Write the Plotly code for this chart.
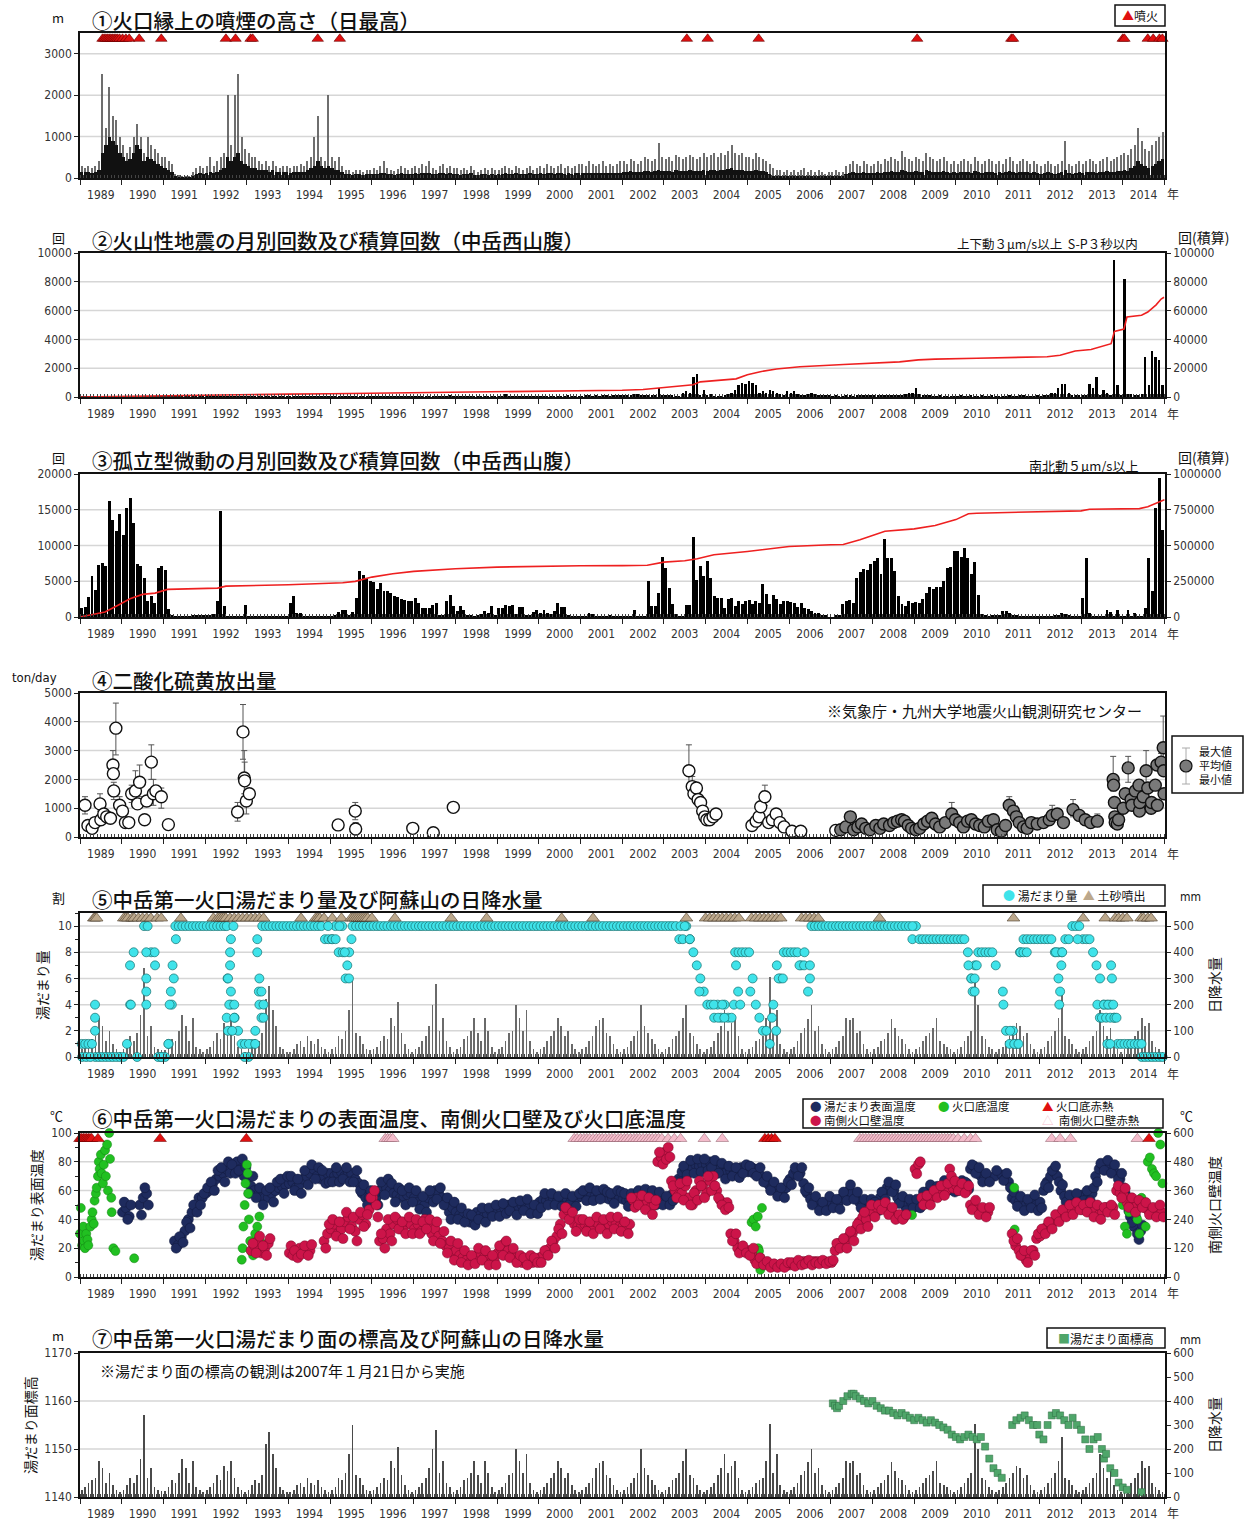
import numpy as np
import pandas as pd
import plotly.graph_objects as go

# ---------------- DATA ----------------
YEAR_START = "1989-01-01"
N_MONTHS = 312

# (1) plume height (m): monthly peak of daily max / typical daily level
PLUME_PEAK = [
 300,250,300,250,300,400,2500,1200,2200,1500,1400,1000,
 800,600,750,1000,1300,1000,600,1000,800,700,600,500,
 500,400,350,100,80,60,50,60,150,250,300,250,
 300,500,300,400,500,600,2000,800,2000,2500,1000,700,
 600,500,500,400,350,400,300,400,300,250,300,300,
 250,300,300,350,300,400,500,1000,1500,500,400,2000,
 500,400,500,300,200,200,150,200,200,150,200,200,
 250,200,300,400,250,200,180,220,300,250,200,250,
 300,250,350,300,400,250,200,300,350,250,300,250,
 250,200,250,200,300,200,150,200,250,200,250,200,
 200,250,300,250,200,300,250,200,250,300,200,250,
 300,250,350,300,250,300,350,250,300,250,300,350,
 350,300,400,350,300,350,400,300,350,300,350,400,
 400,350,450,400,350,400,500,450,400,450,850,500,
 450,500,400,550,500,450,500,550,500,450,500,600,
 500,550,600,500,600,550,650,800,600,550,600,500,
 500,450,600,500,450,400,350,250,200,200,150,200,
 150,200,150,200,250,150,200,150,200,150,100,150,
 150,200,150,150,300,350,400,350,300,400,350,300,
 350,400,350,450,400,500,450,400,640,500,450,400,
 500,450,400,600,500,450,400,450,500,400,350,400,
 350,400,450,400,350,500,400,350,400,450,400,350,
 400,350,450,500,400,350,400,450,400,350,400,350,
 300,350,400,350,300,350,400,900,350,300,350,400,
 350,400,450,400,350,400,450,500,400,450,500,550,
 600,550,700,800,1200,900,700,650,800,900,1000,1100,
]
PLUME_TYP = [
 150,150,150,120,150,200,600,800,1000,900,800,600,
 500,400,450,600,800,700,400,500,450,400,350,300,
 250,200,150,30,20,20,20,20,50,100,120,100,
 120,150,120,150,200,250,500,400,500,600,400,350,
 300,250,250,200,200,200,150,200,150,150,150,150,
 120,150,150,150,150,200,250,300,400,300,250,300,
 250,200,200,150,100,100,80,100,100,80,100,100,
 100,90,110,120,100,90,80,100,110,100,90,100,
 110,100,120,110,130,100,90,110,120,100,110,100,
 90,80,100,90,110,80,70,90,100,80,90,80,
 90,100,110,100,90,110,100,90,100,110,90,100,
 110,100,120,110,100,110,120,100,110,100,110,120,
 120,110,130,120,110,120,130,110,120,110,120,130,
 150,140,160,150,140,150,170,160,150,160,200,170,
 160,180,150,190,180,160,180,190,180,160,180,200,
 180,190,200,180,200,190,210,250,200,190,200,180,
 180,160,200,180,160,140,100,60,50,50,40,50,
 40,50,40,50,60,40,50,40,50,40,30,40,
 40,50,40,40,100,120,140,120,110,140,120,110,
 120,140,120,150,140,160,150,140,200,160,150,140,
 160,150,140,200,160,150,140,150,160,140,120,140,
 120,140,150,140,120,160,140,120,140,150,140,120,
 140,120,150,160,140,120,140,150,140,120,140,120,
 100,120,140,120,100,120,140,200,120,100,120,140,
 120,140,150,140,120,140,150,160,140,150,160,180,
 200,180,250,300,400,350,300,250,300,350,400,450,
]
ERUPTION_T = [1989.54,1989.58,1989.62,1989.66,1989.70,1989.74,1989.78,1989.82,1989.86,
              1989.90,1989.95,1990.02,1990.10,1990.18,1990.42,1990.95,1992.50,1992.73,
              1993.09,1993.14,1994.70,1995.23,2003.55,2004.05,2005.27,2009.07,2011.33,
              2011.37,2014.00,2014.04,2014.60,2014.73,2014.88,2014.95]

# (2) volcanic earthquakes per month / cumulative
EQ_MONTHLY = [
 30,40,30,50,40,30,40,50,40,30,40,30,
 40,30,40,50,60,50,40,30,40,50,40,30,
 30,40,30,40,50,40,30,40,30,40,30,40,
 40,30,40,50,40,30,40,50,40,30,40,30,
 30,40,30,40,30,40,50,40,30,40,30,40,
 40,30,40,30,40,30,40,30,40,30,40,30,
 30,40,30,40,30,40,30,40,30,40,30,40,
 30,30,40,30,40,30,40,30,40,30,40,30,
 40,30,40,30,40,30,40,30,40,50,150,40,
 40,50,40,30,40,50,40,50,60,50,40,50,
 50,50,200,50,40,50,40,50,40,50,40,50,
 50,60,50,60,50,60,50,60,120,60,50,60,
 60,70,150,60,70,60,70,80,60,70,80,70,
 100,150,150,200,200,150,100,100,150,150,600,100,
 100,100,100,50,50,300,450,300,1400,1600,100,500,
 100,200,50,50,50,100,200,300,500,800,1000,900,
 1100,1000,800,300,400,300,500,450,300,200,100,400,
 300,400,200,150,100,200,250,200,150,100,100,80,
 60,80,50,60,80,100,60,80,100,80,100,80,
 100,80,100,120,100,150,120,100,150,200,250,300,
 600,200,150,100,80,50,50,80,60,50,50,60,
 60,80,50,60,80,50,60,80,50,60,80,50,
 60,50,60,80,50,60,80,100,60,50,60,80,
 50,80,100,300,300,600,900,900,300,100,100,100,
 100,100,900,600,1400,100,500,300,100,9500,800,100,
 8200,200,200,100,100,200,2800,800,3200,2800,2600,800,
]
EQ_CUM_T = [1989.0,1990.0,1991.0,1992.0,1993.0,1994.0,1995.0,1996.0,1997.0,1998.0,1999.0,
            2000.0,2001.0,2002.0,2002.5,2003.0,2003.4,2003.7,2003.87,2004.5,2004.73,2005.0,
            2005.31,2005.7,2006.26,2007.31,2008.0,2008.65,2009.1,2009.5,2010.5,2011.5,2012.19,
            2012.5,2012.67,2012.86,2013.24,2013.5,2013.72,2013.8,2014.03,2014.1,2014.45,2014.6,
            2014.7,2014.8,2014.92,2014.99]
EQ_CUM_V = [0,500,900,1300,1700,2000,2300,2600,2900,3300,3700,4000,4300,4700,5200,6500,7400,
            8500,10500,12100,12600,15500,17600,19500,21000,22600,23400,24400,25800,26300,26900,
            27400,28000,29000,30500,32000,33000,35000,37000,45500,47200,55500,56800,59000,61500,
            64000,68000,69300]

# (3) isolated tremors per month / cumulative
TREMOR_MONTHLY = [
 1300,1400,2800,5700,3800,7300,7600,7100,16200,13600,12000,14400,
 11400,15200,16700,13200,7400,7200,5400,2200,2900,2000,6900,7200,
 6600,1100,200,100,100,100,100,100,200,300,200,200,
 200,300,400,2300,14800,1500,100,50,50,50,50,1700,
 50,50,50,50,50,50,50,50,50,50,50,50,
 2000,3000,500,500,50,50,50,50,50,100,100,100,
 100,200,700,1000,1000,300,700,2600,6400,5900,5400,5000,
 4900,3900,4700,3700,3600,3300,2900,2800,2500,2400,2300,2300,
 2600,2000,1300,1300,1200,1700,2000,300,300,2200,3100,1600,
 900,1500,1000,300,200,100,200,400,900,500,1500,300,
 1300,1200,1700,1600,1700,400,1400,1400,300,300,700,1000,
 600,1000,500,400,900,1900,1400,1400,200,100,100,100,
 100,100,600,400,100,50,50,100,300,100,50,50,
 50,50,50,1000,50,50,50,5000,1500,1500,3300,8400,
 6900,4100,1800,400,50,50,1700,1700,11200,5200,7200,5800,
 7800,5400,2900,2700,2700,1200,2500,2600,1600,2200,1800,2200,
 2400,1800,2200,2000,4600,3200,1800,3100,2500,1800,2200,2200,
 2100,1900,1400,2000,1200,1100,800,500,600,300,300,0,
 0,300,300,1800,2200,2400,2000,5500,6300,6700,6600,7400,
 7800,8200,6000,10900,8300,8300,6400,3000,1800,1600,2300,2000,
 2100,2000,2500,3300,4200,3900,4200,4200,5100,6900,7000,9200,
 9300,8400,9600,8300,6000,7700,3100,400,200,100,300,300,
 200,900,900,500,300,200,100,50,50,50,50,50,
 50,50,50,100,300,300,500,400,200,50,50,50,
 2700,8300,600,50,50,50,50,1000,700,50,1000,100,
 100,1000,100,500,100,100,1200,8200,3700,15300,19500,12100,
]
TREMOR_CUM_T = [1989.0,1989.3,1989.6,1989.9,1990.2,1990.5,1990.8,1991.1,1992.3,1992.5,1994.0,
                1995.3,1995.6,1996.0,1996.5,1997.0,1998.0,1999.0,2000.0,2001.0,2002.0,2002.6,
                2003.0,2003.5,2003.8,2004.2,2005.0,2006.0,2007.0,2007.3,2007.7,2008.0,2008.3,
                2009.0,2009.5,2010.0,2010.3,2010.5,2011.0,2012.5,2013.0,2013.2,2014.4,2014.6,
                2014.8,2014.9,2015.0]
TREMOR_CUM_V = [0,18600,35000,81000,128000,158000,167000,193000,202000,216000,225000,240000,
                249000,279000,302000,319000,337000,349000,356000,358000,359000,362000,384000,
                393000,407000,435000,458000,493000,505000,507000,540000,570000,600000,616000,
                640000,681000,722000,726000,730000,738000,742000,753000,758000,771000,795000,
                812000,820000]

# (4) SO2 flux (ton/day): JMA (open) and JMA/Kyushu Univ. (grey)
SO2_OPEN_T = [1989.12,1989.19,1989.29,1989.36,1989.48,1989.50,1989.57,1989.64,1989.73,1989.79,
              1989.80,1989.81,1989.86,1989.95,1990.02,1990.09,1990.17,1990.24,1990.33,1990.38,
              1990.43,1990.55,1990.60,1990.71,1990.76,1990.82,1990.95,1991.12,1992.78,1992.91,
              1992.94,1992.95,1992.99,1993.06,1995.19,1995.60,1995.61,1996.98,1997.47,1997.95,
              2003.60,2003.68,2003.72,2003.78,2003.82,2003.88,2003.93,2003.98,2004.03,2004.10,
              2004.18,2004.25,2005.11,2005.21,2005.28,2005.32,2005.42,2005.51,2005.60,2005.69,
              2005.78,2005.88,2006.07,2006.28,2007.12]
SO2_OPEN_V = [1100,400,300,500,1150,600,800,700,650,2500,2200,1600,3780,1100,900,500,500,1500,
              1600,1150,1900,600,1250,2600,1500,1600,1400,430,870,3650,2050,1950,1250,1500,420,
              900,280,300,150,1030,2300,1750,1500,1700,1300,1200,900,700,600,600,700,800,400,550,
              700,1050,1400,500,600,800,500,350,200,200,230]
SO2_OPEN_MAX = [1400,500,None,None,1500,None,None,None,None,3000,None,1900,4650,1400,None,None,
                None,1800,2300,None,2500,None,None,3200,2000,None,1700,None,1200,4600,3000,2600,
                1600,None,None,1200,500,None,None,None,3200,2100,None,None,1500,None,None,None,
                None,None,None,None,None,None,None,1200,1800,None,None,None,None,None,None,None,None]
SO2_OPEN_MIN = [800,300,None,None,900,None,None,None,None,2000,None,1300,2850,800,None,None,
                None,1200,1100,None,1400,None,None,2000,1100,None,1000,None,550,2700,1500,1400,
                800,None,None,600,None,None,None,None,1700,1400,None,None,1100,None,None,None,
                None,None,None,None,None,None,None,900,1100,None,None,None,None,None,None,None,None]
SO2_GREY_T = [2007.24,2007.36,2007.47,2007.55,2007.65,2007.74,2007.84,2007.94,2008.08,2008.18,
              2008.27,2008.41,2008.51,2008.60,2008.70,2008.77,2008.86,2008.94,2009.04,2009.13,
              2009.23,2009.32,2009.42,2009.51,2009.61,2009.75,2009.90,2009.99,2010.09,2010.18,
              2010.28,2010.37,2010.47,2010.57,2010.68,2010.78,2010.90,2010.99,2011.09,2011.19,
              2011.28,2011.38,2011.45,2011.52,2011.62,2011.71,2011.81,2011.95,2012.10,2012.24,
              2012.31,2012.43,2012.58,2012.81,2012.96,2013.10,2013.23,2013.39,2013.77,2013.78,
              2013.80,2013.81,2013.82,2013.87,2013.90,2014.01,2014.06,2014.13,2014.20,2014.22,
              2014.30,2014.39,2014.40,2014.41,2014.49,2014.56,2014.60,2014.68,2014.69,2014.78,
              2014.82,2014.83,2014.92,2014.97,2014.98,2014.99]
SO2_GREY_V = [250,350,700,250,350,450,300,250,400,300,450,400,500,550,600,550,400,300,250,300,
              450,550,650,450,350,500,800,600,500,350,550,600,450,400,350,550,600,250,200,400,
              1100,900,700,500,350,300,500,450,500,600,750,800,500,950,750,600,500,550,2000,1800,
              1200,700,500,450,600,1000,1500,2400,1300,1100,1600,1800,900,1200,1400,2300,1700,
              1000,1200,1800,2500,1100,2600,3100,2300,1500]
SO2_GREY_MAX = [None]*26 + [1200] + [None]*13 + [1400] + [None]*9 + [1100, None, None, 1300] + \
               [None]*3 + [800, 2800] + [None]*8 + [2800] + [None]*7 + [3000] + [None]*6 + [2900, 4200, None, None]
SO2_GREY_MIN = [None]*26 + [600] + [None]*13 + [900] + [None]*9 + [600, None, None, 700] + \
               [None]*3 + [400, 1600] + [None]*8 + [1900] + [None]*7 + [1700] + [None]*6 + [2300, 2400, None, None]

# (5) crater lake water amount (tenths) and daily precipitation (mm, monthly max)
POOL_MONTHLY = [
 1,1,1,1,0,0,0,0,0,0,0,0,
 0,1,4,8,0,None,10,10,8,8,0,0,
 0,1,4,10,10,10,10,10,10,10,10,10,
 10,10,10,10,10,10,6,4,3,2,1,1,
 0,1,2,5,10,10,10,10,10,10,10,10,
 10,10,10,10,10,10,10,10,10,10,9,9,
 9,10,8,10,6,8,10,10,10,10,10,10,
 10,10,10,10,10,10,10,10,10,10,10,10,
 10,10,10,10,10,10,10,10,10,10,10,10,
 10,10,10,10,10,10,10,10,10,10,10,10,
 10,10,10,10,10,10,10,10,10,10,10,10,
 10,10,10,10,10,10,10,10,10,10,10,10,
 10,10,10,10,10,10,10,10,10,10,10,10,
 10,10,10,10,10,10,10,10,10,10,10,10,
 10,10,10,10,9,9,10,9,8,7,6,5,
 4,4,3,4,3,4,3,3,8,8,8,8,
 8,6,4,3,2,2,1,4,7,6,8,8,
 8,8,8,7,8,5,10,10,10,10,10,10,
 10,10,10,10,10,10,10,10,10,10,10,10,
 10,10,10,10,10,10,10,10,10,10,10,9,
 10,9,9,9,9,9,9,9,9,9,9,9,
 9,9,9,8,6,7,8,8,8,8,8,7,
 None,5,2,1,2,1,8,9,9,9,9,9,
 9,9,9,9,8,8,8,9,9,10,10,10,
 9,9,9,8,7,6,4,4,4,3,1,1,
 1,1,1,1,1,0,0,0,0,0,0,0,
]
POOL_EXTRA_T = [1989.05,1989.15,1989.25,1989.36,1989.36,1989.36,1990.22,1990.20,1990.59,1990.59,
                1990.59,1990.59,1990.80,1990.95,1991.15,1991.18,1991.22,1991.25,1991.30,1991.12,
                1992.52,1992.52,1992.55,1992.55,1992.58,1992.60,1992.60,1992.62,1992.62,1992.65,
                1992.68,1992.70,1992.70,1992.95,1993.05,1993.25,1993.25,1993.30,1993.30,1993.35,
                1993.35,1993.40,1993.40,1993.20,1994.95,1995.05,1995.13,1995.22,1995.30,1995.41,
                1995.45,1995.51,1995.35,2003.40,2003.50,2003.62,2003.85,2004.20,2004.30,2004.40,
                2004.45,2004.68,2004.73,2004.78,2004.83,2005.07,2005.59,2005.69,2005.75,2005.85,
                2006.25,2006.36,2006.50,2006.50,2008.96,2010.30,2010.37,2010.40,2010.45,2010.45,
                2010.50,2011.14,2011.30,2011.40,2011.50,2011.55,2011.62,2011.70,2012.40,2012.46,
                2012.48,2012.50,2012.53,2012.55,2012.92,2013.39,2013.45,2013.50,2013.55,2013.60,
                2013.65,2013.70,2013.72,2013.74,2013.77,2013.80,2013.85,2013.63,2013.70,2014.45]
POOL_EXTRA_V = [0,0,0,4,3,2,4,7,8,6,5,4,7,0,4,5,7,6,9,1,
                10,3,6,2,4,8,7,9,5,2,10,4,3,0,1,9,8,6,4,3,
                5,4,3,1,10,9,9,10,8,7,6,9,8,10,10,9,5,4,3,4,
                3,4,7,5,4,5,3,2,6,6,7,7,6,7,10,7,6,5,5,6,
                7,4,2,1,1,8,8,8,8,6,4,5,7,8,9,4,3,3,4,3,
                4,3,7,6,4,3,3,1,1,1]
SEDIMENT_T = [1989.33,1989.36,1989.40,1990.05,1990.10,1990.15,1990.25,1990.30,1990.40,1990.50,
              1990.60,1990.70,1990.85,1990.95,1991.42,1992.20,1992.30,1992.35,1992.40,1992.45,
              1992.50,1992.60,1992.70,1992.80,1992.90,1993.00,1993.10,1993.20,1993.30,1993.40,
              1994.30,1994.65,1994.70,1994.75,1994.85,1995.05,1995.27,1995.50,1995.55,1995.60,
              1995.65,1995.70,1995.75,1995.80,1995.85,1995.90,1996.00,1996.55,1997.90,1998.75,
              2000.55,2001.30,2003.54,2004.00,2004.10,2004.20,2004.30,2004.40,2004.50,2004.60,
              2004.70,2004.80,2005.10,2005.20,2005.30,2005.40,2005.50,2005.60,2005.70,2005.80,
              2006.30,2006.40,2006.50,2006.60,2006.70,2008.17,2011.38,2013.05,2013.58,2013.82,
              2013.90,2014.00,2014.10,2014.44,2014.50,2014.60,2014.68]
PRECIP = [
 30,40,60,70,80,150,120,60,100,50,30,20,
 30,50,80,60,90,160,340,80,120,40,30,25,
 25,40,70,60,100,160,120,60,150,40,30,20,
 30,40,60,90,70,130,110,150,80,40,30,20,
 30,50,70,60,90,220,270,180,120,40,30,20,
 20,30,50,60,40,80,60,50,70,40,30,20,
 30,40,80,70,100,180,300,90,80,50,30,25,
 30,40,60,80,70,150,120,210,90,50,30,20,
 30,40,60,80,120,200,280,100,150,60,40,20,
 30,40,70,80,100,150,90,60,150,100,40,20,
 30,40,60,90,100,200,150,100,180,60,30,20,
 30,40,60,80,100,150,120,80,100,50,30,20,
 30,40,60,80,120,140,150,90,80,50,30,20,
 30,40,60,80,100,200,120,90,70,50,30,20,
 30,40,70,80,100,150,200,90,80,50,30,20,
 30,40,60,90,120,180,100,130,150,80,30,20,
 30,40,60,70,80,150,305,100,180,50,30,20,
 30,40,60,90,110,145,200,100,120,50,30,20,
 30,40,60,80,150,140,150,90,100,50,30,20,
 30,40,60,70,90,145,110,80,70,50,30,20,
 30,40,60,80,90,110,150,60,50,40,30,20,
 30,40,60,80,100,305,200,80,70,40,30,20,
 30,40,60,80,100,130,120,80,90,50,30,20,
 30,40,60,80,100,150,250,80,70,50,30,20,
 30,40,60,80,100,180,120,80,110,50,30,20,
 30,40,60,80,100,150,120,130,60,40,30,20,
]

# (6) temperatures: two readings per month (early / late) for lake surface and south wall
SURF_TEMP_A = [
 None,None,None,None,None,None,None,None,None,None,None,None,
 45,48,42,None,None,50,55,58,None,None,None,None,
 None,None,None,25,22,28,32,40,45,50,55,55,
 58,60,65,68,70,72,75,72,78,80,75,70,
 65,63,60,57,55,55,55,58,60,62,63,64,
 65,66,62,64,68,70,72,75,70,68,70,72,
 72,70,72,73,70,72,72,68,65,58,55,55,
 52,55,60,63,62,60,58,57,55,56,57,58,
 55,52,50,50,55,58,60,58,55,50,45,48,
 45,43,42,40,38,42,45,43,42,44,46,45,
 46,47,48,50,48,47,49,50,50,48,45,48,
 52,54,53,55,54,52,53,55,54,52,53,55,
 56,57,58,57,56,58,57,55,54,55,56,55,
 54,53,54,55,56,57,57,58,56,54,55,54,
 52,54,57,62,68,73,75,77,76,78,77,78,
 78,80,77,76,75,72,73,74,72,73,76,74,
 73,76,75,72,70,66,64,62,60,58,60,62,
 68,72,74,72,65,58,54,52,50,48,50,52,
 52,50,51,55,57,60,58,55,52,50,49,50,
 48,50,55,58,62,63,60,55,52,50,50,52,
 50,52,55,58,60,60,59,62,63,64,62,63,
 64,63,62,65,75,77,72,70,68,70,None,70,
 None,71,68,66,55,53,52,50,50,52,53,50,
 52,60,66,70,73,70,60,56,53,52,54,56,
 57,56,57,58,70,75,78,78,76,74,72,68,
 62,50,42,35,30,32,None,None,None,None,None,None,
]
SURF_TEMP_B = [
 None,None,None,None,None,None,None,None,None,None,None,None,
 52,40,50,None,None,43,62,50,None,None,None,None,
 None,None,None,20,28,24,38,34,50,45,50,58,
 62,66,60,74,76,66,80,78,72,74,82,76,
 58,70,55,62,50,60,62,52,66,68,58,70,
 70,60,68,58,74,64,78,68,76,74,65,66,
 66,76,66,68,76,66,66,74,60,64,50,60,
 58,50,66,57,68,65,52,62,60,50,62,52,
 60,47,56,45,60,52,54,62,50,55,40,52,
 40,48,38,44,43,36,40,48,38,48,42,50,
 42,51,44,46,52,43,53,46,54,44,50,44,
 48,58,50,58,50,56,49,58,50,56,49,58,
 60,53,62,53,60,54,61,59,58,51,60,59,
 58,49,58,51,60,53,61,54,60,50,59,50,
 56,50,53,66,62,77,71,81,72,82,73,82,
 74,76,81,72,79,68,77,70,76,69,72,78,
 77,72,70,76,66,70,60,66,56,62,55,66,
 64,76,70,76,60,62,50,56,46,52,46,56,
 48,54,47,59,53,64,54,59,48,54,45,54,
 52,46,59,54,66,59,64,51,56,46,54,48,
 54,48,59,54,64,56,63,58,67,60,66,59,
 60,67,66,61,78,72,76,66,72,66,None,74,
 None,67,72,62,59,49,56,46,54,48,57,46,
 48,64,62,74,77,66,64,52,57,48,58,52,
 53,60,53,62,66,79,74,81,72,78,68,72,
 58,46,38,42,26,36,None,None,None,None,None,None,
]
WALL_TEMP_A = [
 None,None,None,None,None,None,None,None,None,None,None,None,
 None,None,None,None,None,None,None,None,None,None,None,None,
 None,None,None,None,None,None,None,None,None,None,None,None,
 None,None,None,None,None,None,None,None,None,None,None,None,
 None,110,130,150,100,120,140,None,None,None,None,None,
 100,90,110,120,100,120,110,None,None,None,150,180,
 200,220,180,200,230,250,210,190,240,260,220,280,
 330,300,150,160,200,180,220,240,200,210,230,220,
 200,220,190,240,210,180,200,170,150,130,120,100,
 110,90,80,70,60,80,90,100,80,70,60,70,
 100,120,140,110,90,80,70,60,65,70,60,75,
 80,90,110,120,150,170,220,260,280,240,220,210,
 210,220,200,210,230,220,210,200,220,230,220,210,
 210,200,220,320,330,320,300,310,290,300,480,500,
 520,540,400,360,340,350,380,330,300,360,400,380,
 350,400,420,360,320,300,310,180,150,120,110,110,
 110,100,70,60,60,55,50,45,45,50,45,50,
 50,55,60,60,65,65,60,65,65,60,65,60,
 60,110,140,130,150,170,180,200,230,250,240,280,
 270,290,300,290,280,270,260,250,255,250,None,None,
 450,470,330,310,320,340,360,350,380,360,450,370,
 380,370,380,360,300,290,280,270,260,270,None,None,
 None,None,None,None,180,130,110,90,70,95,110,160,
 170,200,210,220,230,250,260,270,270,280,290,300,
 280,300,290,270,280,260,270,290,280,290,360,350,
 340,310,300,290,300,310,290,280,270,260,280,270,
]
WALL_TEMP_B = [
 None,None,None,None,None,None,None,None,None,None,None,None,
 None,None,None,None,None,None,None,None,None,None,None,None,
 None,None,None,None,None,None,None,None,None,None,None,None,
 None,None,None,None,None,None,None,None,None,None,None,None,
 None,140,100,170,130,90,160,None,None,None,None,None,
 130,110,80,95,130,90,135,None,None,None,120,220,
 240,170,230,160,270,200,250,150,270,210,260,330,
 360,250,180,120,240,150,250,200,230,180,250,180,
 240,180,230,200,240,150,230,140,190,100,150,70,
 140,60,110,50,90,55,120,70,110,50,90,50,
 130,90,150,80,120,60,90,80,50,90,80,60,
 60,110,90,150,120,200,180,290,240,270,190,240,
 240,190,230,180,250,200,240,180,250,200,250,190,
 230,180,330,290,300,340,280,330,260,320,520,470,
 490,500,380,330,390,320,400,300,350,320,380,330,
 420,360,380,330,300,280,290,150,180,100,130,100,
 90,120,55,80,50,65,40,55,40,55,40,60,
 60,45,70,50,55,70,50,60,55,70,55,65,
 70,140,120,160,120,190,150,220,200,270,210,300,
 250,300,280,310,260,290,240,260,240,260,None,None,
 430,480,300,340,300,360,330,380,340,390,420,400,
 360,390,350,380,280,320,260,290,250,290,None,None,
 None,None,None,None,150,160,90,110,60,110,90,180,
 200,180,230,200,260,230,280,250,300,260,310,280,
 300,270,310,250,300,240,290,270,300,260,380,330,
 370,290,330,270,320,290,310,260,290,250,300,250,
]
BOTTOM_T = [1989.00,1989.02,1989.05,1989.08,1989.10,1989.12,1989.15,1989.18,1989.20,1989.25,
            1989.28,1989.30,1989.33,1989.35,1989.38,1989.40,1989.43,1989.45,1989.47,1989.50,
            1989.52,1989.55,1989.57,1989.60,1989.62,1989.65,1989.67,1989.70,1989.72,1989.75,
            1989.76,1989.80,1989.85,1990.30,1992.88,1992.90,1992.92,1992.95,1992.97,1993.00,
            1993.02,1993.03,1993.05,1993.08,1993.10,1993.15,1993.20,1993.25,1993.30,1993.32,
            1993.35,2005.10,2005.15,2005.20,2005.25,2005.21,2005.26,2005.30,2005.28,2005.31,
            2005.35,2008.95,2011.40,2011.41,2013.95,2014.00,2014.05,2014.10,2014.15,2014.20,
            2014.25,2014.30,2014.35,2014.40,2014.45,2014.50,2014.55,2014.60,2014.65,2014.70,
            2014.75,2014.80,2014.85,2014.90,2014.95]
BOTTOM_V = [30,48,22,35,25,20,30,26,22,35,40,45,37,53,58,62,70,80,75,85,72,65,78,88,70,92,60,
            100,82,55,45,20,18,13,12,20,35,50,65,78,72,58,40,25,18,15,30,35,42,25,20,38,40,35,
            42,15,20,14,18,5,48,43,62,33,58,50,35,30,45,55,50,45,40,30,55,52,35,80,83,75,72,70,
            100,92,65]
RED_GLOW_T = [1989.00,1989.04,1989.08,1989.12,1989.16,1989.20,1989.24,1989.28,1989.43,1990.92,
              1992.99,2005.42,2005.50,2005.58,2005.66,2014.63]
PINK_GLOW_T = [1996.32,1996.38,1996.44,1996.50,2000.85,2000.92,2001.00,2001.08,2001.15,2001.22,
               2001.30,2001.38,2001.45,2001.52,2001.60,2001.68,2001.75,2001.82,2001.90,2001.97,
               2002.05,2002.12,2002.20,2002.28,2002.35,2002.42,2002.50,2002.58,2002.65,2002.72,
               2002.80,2002.87,2002.95,2003.10,2003.25,2003.40,2003.97,2004.40,2007.70,2007.77,
               2007.84,2007.91,2007.98,2008.05,2008.12,2008.19,2008.26,2008.33,2008.40,2008.47,
               2008.54,2008.61,2008.68,2008.75,2008.82,2008.89,2008.96,2009.03,2009.10,2009.17,
               2009.24,2009.31,2009.38,2009.45,2009.52,2009.59,2009.66,2009.73,2009.80,2009.87,
               2009.94,2010.05,2010.20,2010.35,2010.47,2012.30,2012.50,2012.75,2014.35]

# (7) crater lake surface elevation (m)
LAKE_ELEV_T = [2007.05,2007.10,2007.15,2007.20,2007.30,2007.40,2007.50,2007.55,2007.60,2007.70,
               2007.80,2007.90,2008.00,2008.10,2008.20,2008.30,2008.40,2008.50,2008.60,2008.70,
               2008.80,2008.90,2009.00,2009.10,2009.20,2009.30,2009.40,2009.50,2009.60,2009.70,
               2009.80,2009.90,2010.00,2010.10,2010.20,2010.30,2010.40,2010.50,2010.60,2010.70,
               2010.80,2010.90,2011.00,2011.10,2011.35,2011.45,2011.55,2011.65,2011.75,2011.85,
               2011.95,2012.00,2012.10,2012.20,2012.30,2012.40,2012.50,2012.60,2012.70,2012.80,
               2012.90,2013.00,2013.10,2013.20,2013.30,2013.40,2013.50,2013.55,2013.60,2013.70,
               2013.80,2013.90,2014.00,2014.10,2014.45]
LAKE_ELEV_V = [1159.5,1159,1158.5,1159,1160,1161,1161.5,1161.5,1161,1160.5,1160,1159.5,1160,1159,
               1158.5,1158,1158,1157.5,1157,1157.5,1157,1156.5,1156,1156.5,1156,1155.5,1156,1155.5,
               1155,1154.5,1154,1153,1152.5,1152,1152.5,1153,1152.5,1152,1152.5,1150.5,1148,1146,
               1145,1144,1155,1156,1156.5,1157,1156,1155,1155,1153,1152,1155,1157,1157.5,1157,1156,
               1155,1156.5,1155,1154,1152,1150,1152,1152.5,1150,1148,1149,1146,1145,1143,1142,
               1141.5,1141]

# ---------------- HELPERS ----------------
MONTHS = pd.date_range(YEAR_START, periods=N_MONTHS, freq="MS") + pd.Timedelta(days=15)
MONTHS_EARLY = pd.date_range(YEAR_START, periods=N_MONTHS, freq="MS") + pd.Timedelta(days=7)
MONTHS_LATE = pd.date_range(YEAR_START, periods=N_MONTHS, freq="MS") + pd.Timedelta(days=22)


def to_dt(ts):
    out = []
    for t in ts:
        y = int(np.floor(t))
        out.append(pd.Timestamp(y, 1, 1) + pd.Timedelta(days=(t - y) * 365.25))
    return out


def err(vals, bound, sign):
    return [((b - v) * sign if b is not None else 0) for v, b in zip(vals, bound)]


W, H = 1244, 1521
ML, MR = 80, 79
PW = W - ML - MR


def px(x):
    return (x - ML) / PW


def py(y):
    return 1 - y / H


JP = "Noto Sans CJK JP, Noto Sans, sans-serif"
NUM = "Liberation Sans Narrow, DejaVu Sans Condensed, Arial Narrow, sans-serif"
TICKFONT = dict(family=NUM, size=12, color="#333")
DAY = 86400000

fig = go.Figure()

# ---- (1) plume
fig.add_bar(x=MONTHS, y=PLUME_PEAK, width=9 * DAY, marker=dict(color="#555", line=dict(width=0)),
            xaxis="x", yaxis="y", opacity=0.85)
fig.add_bar(x=MONTHS, y=PLUME_TYP, width=30 * DAY, marker=dict(color="#111", line=dict(width=0)),
            xaxis="x", yaxis="y")
fig.add_scatter(x=to_dt(ERUPTION_T), y=[3360] * len(ERUPTION_T), mode="markers",
                marker=dict(symbol="triangle-up", size=10, color="#e01010",
                            line=dict(color="#600", width=0.6)), xaxis="x", yaxis="y", cliponaxis=False)

# ---- (2) earthquakes
fig.add_bar(x=MONTHS, y=EQ_MONTHLY, width=20 * DAY, marker=dict(color="#000", line=dict(width=0)),
            xaxis="x2", yaxis="y2")
fig.add_scatter(x=to_dt(EQ_CUM_T), y=EQ_CUM_V, mode="lines", line=dict(color="#ee2020", width=1.6),
                xaxis="x2", yaxis="y3")

# ---- (3) tremors
fig.add_bar(x=MONTHS, y=TREMOR_MONTHLY, width=26 * DAY, marker=dict(color="#000", line=dict(width=0)),
            xaxis="x3", yaxis="y4")
fig.add_scatter(x=to_dt(TREMOR_CUM_T), y=TREMOR_CUM_V, mode="lines", line=dict(color="#ee2020", width=1.6),
                xaxis="x3", yaxis="y5")

# ---- (4) SO2
for T, V, MX, MN, col in [(SO2_OPEN_T, SO2_OPEN_V, SO2_OPEN_MAX, SO2_OPEN_MIN, "#ffffff"),
                          (SO2_GREY_T, SO2_GREY_V, SO2_GREY_MAX, SO2_GREY_MIN, "#7a7a7a")]:
    fig.add_scatter(x=to_dt(T), y=V, mode="markers",
                    marker=dict(symbol="circle", size=12, color=col, line=dict(color="#111", width=1.4)),
                    error_y=dict(type="data", symmetric=False, array=err(V, MX, 1),
                                 arrayminus=err(V, MN, -1), color="#555", thickness=1, width=3),
                    xaxis="x4", yaxis="y6")

# ---- (5) water amount + precipitation
fig.add_bar(x=MONTHS, y=PRECIP, width=6 * DAY, marker=dict(color="#6a6a6a", line=dict(width=0)),
            xaxis="x5", yaxis="y7")
pool_t = list(MONTHS) + to_dt(POOL_EXTRA_T)
pool_v = list(POOL_MONTHLY) + list(POOL_EXTRA_V)
fig.add_scatter(x=pool_t, y=pool_v, mode="markers",
                marker=dict(size=9, color="#3fe3ea", line=dict(color="#17706f", width=0.7)),
                xaxis="x5", yaxis="y8", cliponaxis=False)
fig.add_scatter(x=to_dt(SEDIMENT_T), y=[10.6] * len(SEDIMENT_T), mode="markers",
                marker=dict(symbol="triangle-up", size=11, color="#bca88c", line=dict(color="#4a3a2a", width=0.6)),
                xaxis="x5", yaxis="y8", cliponaxis=False)

# ---- (6) temperatures
for xs, ys in [(MONTHS_EARLY, SURF_TEMP_A), (MONTHS_LATE, SURF_TEMP_B)]:
    fig.add_scatter(x=xs, y=ys, mode="markers",
                    marker=dict(size=10, color="#1e2b5e", line=dict(color="#121a3c", width=0.5)),
                    xaxis="x6", yaxis="y9")
fig.add_scatter(x=to_dt(BOTTOM_T), y=BOTTOM_V, mode="markers",
                marker=dict(size=9, color="#21c021", line=dict(color="#158015", width=0.5)),
                xaxis="x6", yaxis="y9", cliponaxis=False)
fig.add_scatter(x=to_dt(PINK_GLOW_T), y=[96] * len(PINK_GLOW_T), mode="markers",
                marker=dict(symbol="triangle-up", size=11, color="#f4bccb", line=dict(color="#8a5a66", width=0.5)),
                xaxis="x6", yaxis="y9", cliponaxis=False)
fig.add_scatter(x=to_dt(RED_GLOW_T), y=[96] * len(RED_GLOW_T), mode="markers",
                marker=dict(symbol="triangle-up", size=11, color="#e01010", line=dict(color="#600", width=0.5)),
                xaxis="x6", yaxis="y9", cliponaxis=False)
for xs, ys in [(MONTHS_EARLY, WALL_TEMP_A), (MONTHS_LATE, WALL_TEMP_B)]:
    fig.add_scatter(x=xs, y=ys, mode="markers",
                    marker=dict(size=10, color="#cc1449", line=dict(color="#7a0a2a", width=0.5)),
                    xaxis="x6", yaxis="y10")

# ---- (7) elevation + precipitation
fig.add_bar(x=MONTHS, y=PRECIP, width=6 * DAY, marker=dict(color="#4a4a4a", line=dict(width=0)),
            xaxis="x7", yaxis="y11")
fig.add_scatter(x=to_dt(LAKE_ELEV_T), y=LAKE_ELEV_V, mode="markers",
                marker=dict(symbol="square", size=7, color="#4fa66a", line=dict(color="#2c6a40", width=0.5)),
                xaxis="x7", yaxis="y12")

# ---------------- LAYOUT ----------------
PANELS = [(33, 178), (253, 397), (474, 617), (693, 837), (913, 1057), (1133, 1277), (1353, 1497)]
BASE_Y = ["y", "y2", "y4", "y6", "y7", "y9", "y11"]

layout = dict(width=W, height=H, margin=dict(l=ML, r=MR, t=0, b=0, pad=0, autoexpand=False),
              autosize=False, plot_bgcolor="white", paper_bgcolor="white", showlegend=False,
              barmode="overlay", bargap=0, font=dict(family=JP, color="#222"))

for k, (top, bot) in enumerate(PANELS, start=1):
    xname = "xaxis" if k == 1 else f"xaxis{k}"
    layout[xname] = dict(domain=[0, 1], anchor=BASE_Y[k - 1], type="date", automargin=False,
                         range=["1989-01-01", "2015-01-06"], dtick="M12", tick0="1989-01-01",
                         tickformat="%Y", ticklabelmode="period", ticks="outside", ticklen=5,
                         tickcolor="#222", tickwidth=1, showline=True, linecolor="#111", linewidth=1.6,
                         mirror=True, showgrid=False, zeroline=False, tickfont=TICKFONT, fixedrange=True,
                         minor=dict(dtick="M1", tick0="1989-01-01", ticks="inside", ticklen=3,
                                    tickcolor="#444", showgrid=False))


def yax(dom_k, anchor, rng, tickvals, side="left", overlay=None, mirror=True, minor=None):
    top, bot = PANELS[dom_k - 1]
    d = dict(range=rng, tickvals=tickvals, side=side, anchor=anchor, ticks="outside", ticklen=4,
             tickcolor="#222", showline=True, linecolor="#111", linewidth=1.6, mirror=mirror,
             showgrid=False, zeroline=False, tickfont=TICKFONT, fixedrange=True, tickformat="d",
             automargin=False)
    if overlay:
        d["overlaying"] = overlay
    else:
        d["domain"] = [py(bot), py(top)]
    if minor:
        d["minor"] = minor
    return d


layout["yaxis"] = yax(1, "x", [0, 3500], [0, 1000, 2000, 3000])
layout["yaxis2"] = yax(2, "x2", [0, 10000], list(range(0, 10001, 2000)))
layout["yaxis3"] = yax(2, "x2", [0, 100000], list(range(0, 100001, 20000)), side="right", overlay="y2")
layout["yaxis4"] = yax(3, "x3", [0, 20000], list(range(0, 20001, 5000)))
layout["yaxis5"] = yax(3, "x3", [0, 1000000], list(range(0, 1000001, 250000)), side="right", overlay="y4")
layout["yaxis6"] = yax(4, "x4", [0, 5000], list(range(0, 5001, 1000)))
layout["yaxis7"] = yax(5, "x5", [0, 550], list(range(0, 501, 100)), side="right")
layout["yaxis8"] = yax(5, "x5", [0, 11], list(range(0, 11, 2)), side="left", overlay="y7",
                       minor=dict(dtick=1, ticks="outside", ticklen=3, tickcolor="#222"))
layout["yaxis9"] = yax(6, "x6", [0, 100], list(range(0, 101, 20)),
                       minor=dict(dtick=10, ticks="outside", ticklen=3, tickcolor="#222"))
layout["yaxis10"] = yax(6, "x6", [0, 600], list(range(0, 601, 120)), side="right", overlay="y9")
layout["yaxis11"] = yax(7, "x7", [0, 600], list(range(0, 601, 100)), side="right")
layout["yaxis12"] = yax(7, "x7", [1140, 1170], [1140, 1150, 1160, 1170], side="left", overlay="y11")

# grid lines (drawn below the data)
GRID = [("x", "y", [1000, 2000, 3000]), ("x2", "y2", [2000, 4000, 6000, 8000]),
        ("x3", "y4", [5000, 10000, 15000]), ("x4", "y6", [1000, 2000, 3000, 4000]),
        ("x5", "y7", [100, 200, 300, 400, 500]), ("x6", "y9", [20, 40, 60, 80]),
        ("x7", "y11", [200, 400])]
shapes = []
for xr, yr, vals in GRID:
    for v in vals:
        shapes.append(dict(type="line", xref=f"{xr} domain", yref=yr, x0=0, x1=1, y0=v, y1=v,
                           line=dict(color="#d6d6d6", width=1.5), layer="below"))


def rect(x0, y0, x1, y1, lw=1.5):
    return dict(type="rect", xref="paper", yref="paper", x0=px(x0), x1=px(x1), y0=py(y1), y1=py(y0),
                line=dict(color="#111", width=lw), fillcolor="white", layer="above")


shapes += [rect(1115, 5, 1165, 26), rect(983, 885, 1165, 906), rect(803, 1099, 1163, 1128),
           rect(1047, 1328, 1165, 1348), rect(1172, 736, 1243, 793)]
# SO2 legend glyph
shapes += [
    dict(type="line", xref="paper", yref="paper", x0=px(1186), x1=px(1186), y0=py(784), y1=py(748),
         line=dict(color="#aaa", width=1)),
    dict(type="line", xref="paper", yref="paper", x0=px(1182), x1=px(1190), y0=py(748), y1=py(748),
         line=dict(color="#aaa", width=1)),
    dict(type="line", xref="paper", yref="paper", x0=px(1182), x1=px(1190), y0=py(784), y1=py(784),
         line=dict(color="#aaa", width=1)),
    dict(type="circle", xref="paper", yref="paper", x0=px(1180), x1=px(1192), y0=py(772), y1=py(760),
         fillcolor="#7a7a7a", line=dict(color="#111", width=1.2)),
]
layout["shapes"] = shapes

ann = []


def A(text, x, y, size=13, xanchor="left", color="#111", family=JP, angle=0, weight=None):
    f = dict(size=size, color=color, family=family)
    if weight:
        f["weight"] = weight
    ann.append(dict(text=text, x=px(x), y=py(y), xref="paper", yref="paper", xanchor=xanchor,
                    yanchor="middle", showarrow=False, textangle=angle, font=f))


TITLES = ["①火口縁上の噴煙の高さ（日最高）",
          "②火山性地震の月別回数及び積算回数（中岳西山腹）",
          "③孤立型微動の月別回数及び積算回数（中岳西山腹）",
          "④二酸化硫黄放出量",
          "⑤中岳第一火口湯だまり量及び阿蘇山の日降水量",
          "⑥中岳第一火口湯だまりの表面温度、南側火口壁及び火口底温度",
          "⑦中岳第一火口湯だまり面の標高及び阿蘇山の日降水量"]
TITLE_Y = [20, 240, 460, 680, 899, 1118, 1338]
for t, yy in zip(TITLES, TITLE_Y):
    A(t, 90, yy, size=20.5, weight=500)
XLAB_Y = [193, 413, 633, 853, 1073, 1292, 1512]
for yy in XLAB_Y:
    A("年", 1165, yy, size=12, color="#333")

A("m", 50, 18, size=13)
A("回", 50, 237, size=13)
A("回(積算)", 1176, 237, size=14)
A("回", 50, 457, size=13)
A("回(積算)", 1176, 457, size=14)
A("ton/day", 10, 677, size=13, family=NUM)
A("割", 50, 897, size=13)
A("mm", 1178, 897, size=12, family=NUM)
A("℃", 48, 1115, size=13)
A("℃", 1178, 1115, size=13)
A("m", 50, 1335, size=13)
A("mm", 1178, 1340, size=12, family=NUM)

A("上下動３μm/s以上  S-P３秒以内", 1140, 244, size=12.5, xanchor="right")
A("南北動５μm/s以上", 1140, 465, size=13, xanchor="right")
A("※気象庁・九州大学地震火山観測研究センター", 825, 711, size=15)
A("※湯だまり面の標高の観測は2007年１月21日から実施", 98, 1370, size=15)

A("<span style='color:#e01010'>▲</span>噴火", 1140, 15.5, size=12, xanchor="center")
A("<span style='color:#3fe3ea'>●</span> 湯だまり量  <span style='color:#bca88c'>▲</span> 土砂噴出",
  1074, 895.5, size=12, xanchor="center")
A("<span style='color:#4fa66a'>■</span>湯だまり面標高", 1106, 1338, size=12, xanchor="center")
A("最大値", 1197, 751, size=11)
A("平均値", 1197, 765, size=11)
A("最小値", 1197, 779, size=11)
# legend (6)
A("<span style='color:#1e2b5e'>●</span> 湯だまり表面温度", 808, 1106, size=11.5)
A("<span style='color:#21c021'>●</span> 火口底温度", 936, 1106, size=11.5)
A("<span style='color:#e01010'>▲</span> 火口底赤熱", 1040, 1106, size=11.5)
A("<span style='color:#cc1449'>●</span> 南側火口壁温度", 808, 1119.5, size=11.5)
A("<span style='color:#f4bccb'>△</span>  南側火口壁赤熱", 1040, 1119.5, size=11.5)

# vertical axis titles
A("湯だまり量", 42, 985, size=14, xanchor="center", angle=-90)
A("日降水量", 1214, 985, size=14, xanchor="center", angle=-90)
A("湯だまり表面温度", 36, 1205, size=14, xanchor="center", angle=-90)
A("南側火口壁温度", 1214, 1205, size=14, xanchor="center", angle=-90)
A("湯だまり面標高", 30, 1425, size=14, xanchor="center", angle=-90)
A("日降水量", 1214, 1425, size=14, xanchor="center", angle=-90)

layout["annotations"] = ann
fig.update_layout(**layout)

fig.write_html("out.html", config=dict(displayModeBar=False),
               post_script="document.body.style.margin='0px';")
